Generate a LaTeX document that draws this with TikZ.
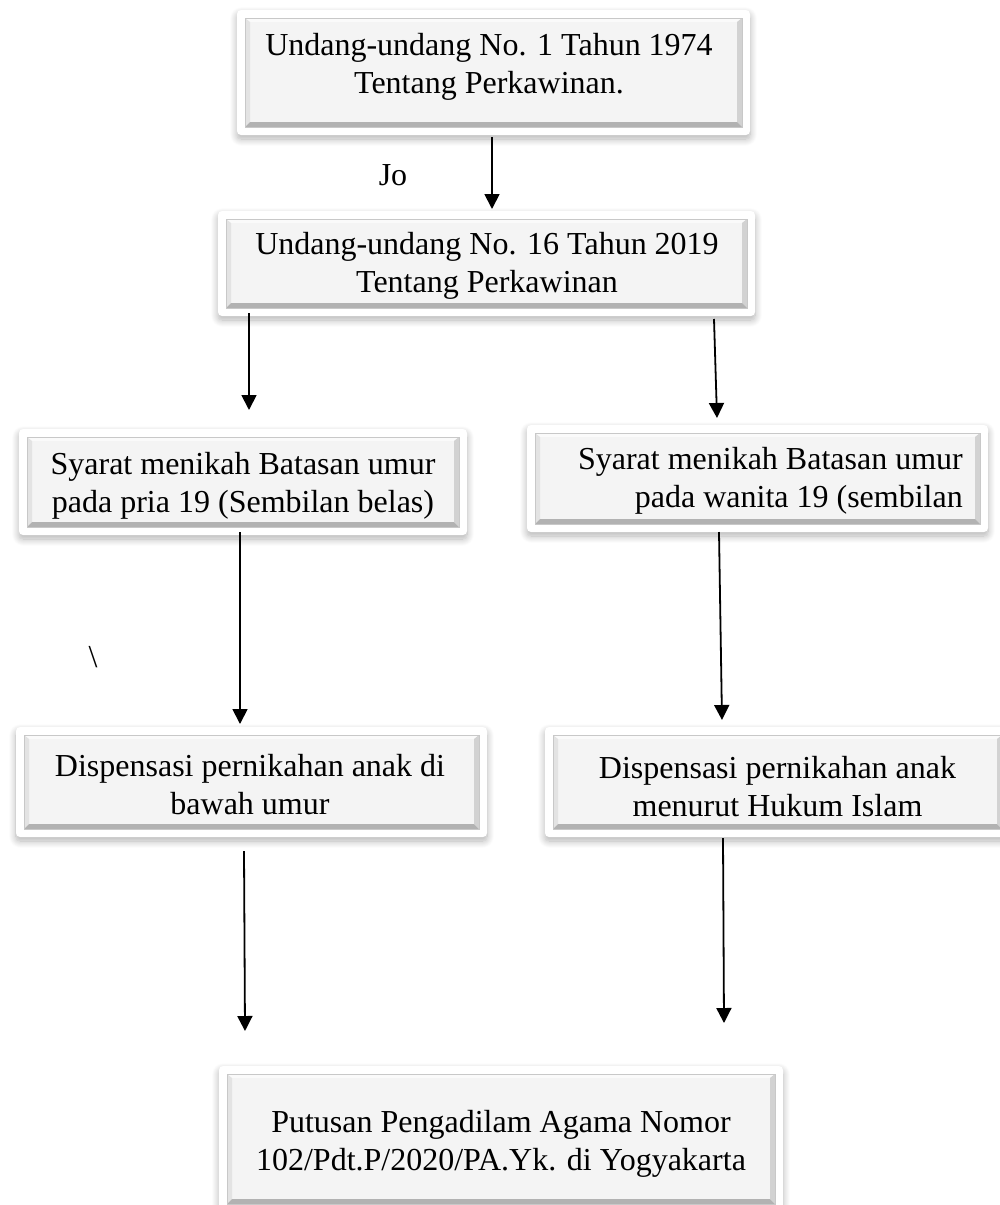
\documentclass[tikz,border=0pt]{standalone}
\usepackage{fontspec}
\setmainfont{Liberation Serif}
\usetikzlibrary{arrows.meta,shadows.blur}
\definecolor{facecol}{HTML}{F4F4F4}
\definecolor{topbev}{HTML}{FAFAFA}
\definecolor{leftbev}{HTML}{E3E3E3}
\definecolor{rightbev}{HTML}{D2D2D2}
\definecolor{botbev}{HTML}{B2B2B2}
\definecolor{edgecol}{HTML}{C8C8C8}
\begin{document}
\begin{tikzpicture}[x=1pt,y=-1pt,
  box/.style={rectangle, rounded corners=4pt, fill=white, draw=none, inner sep=0pt,
    blur shadow={shadow xshift=0pt, shadow yshift=-4pt, shadow blur radius=7pt, shadow opacity=30, shadow blur steps=10},
    path picture={
      \begin{scope}[sharp corners]
      \coordinate (pSW) at ([xshift=8pt,yshift=8pt]path picture bounding box.south west);
      \coordinate (pNE) at ([xshift=-8pt,yshift=-8pt]path picture bounding box.north east);
      \coordinate (pNW) at (pSW |- pNE);
      \coordinate (pSE) at (pNE |- pSW);
      \coordinate (iSW) at ([xshift=5pt,yshift=5pt]pSW);
      \coordinate (iNE) at ([xshift=-5pt,yshift=-4pt]pNE);
      \coordinate (iNW) at (iSW |- iNE);
      \coordinate (iSE) at (iNE |- iSW);
      \fill[facecol] (iSW) rectangle (iNE);
      \fill[topbev] (pNW) -- (pNE) -- (iNE) -- (iNW) -- cycle;
      \fill[leftbev] (pSW) -- (pNW) -- (iNW) -- (iSW) -- cycle;
      \fill[rightbev] (pSE) -- (pNE) -- (iNE) -- (iSE) -- cycle;
      \fill[botbev] (pSW) -- (pSE) -- (iSE) -- (iSW) -- cycle;
      \draw[edgecol, line width=0.5pt] (pSW) rectangle (pNE);
      \end{scope}
    }},
  txt/.style={font=\fontsize{32}{38}\selectfont, align=center, inner sep=0pt},
  arr/.style={line width=1.8pt, -{Triangle[width=15pt,length=15pt]}}]
\useasboundingbox (0,0) rectangle (1000,1205);
\clip (0,0) rectangle (1000,1205);

% boxes
\node[box, minimum width=513pt, minimum height=125pt] (b1) at (493.5,72.5) {};
\node[box, minimum width=537pt, minimum height=105pt] (b2) at (486.5,263.5) {};
\node[box, minimum width=448pt, minimum height=106pt] (b3) at (243,482) {};
\node[box, minimum width=461pt, minimum height=107pt] (b4) at (757.5,478.5) {};
\node[box, minimum width=471pt, minimum height=110pt] (b5) at (251.5,782) {};
\node[box, minimum width=465pt, minimum height=110pt] (b6) at (777.5,782) {};
\node[box, minimum width=564pt, minimum height=146pt] (b7) at (501,1139) {};

% texts
\node[txt] (t1) at (489,67) {Undang-undang No. 1 Tahun 1974\\Tentang Perkawinan.};
\node[txt] (t2) at (487,266) {Undang-undang No. 16 Tahun 2019\\Tentang Perkawinan};
\node[txt] (t3) at (243,486) {Syarat menikah Batasan umur\\pada pria 19 (Sembilan belas)};
\node[txt, align=right, anchor=east] (t4) at (963,481) {Syarat menikah Batasan umur\\pada wanita 19 (sembilan};
\node[txt] (t5) at (250,785) {Dispensasi pernikahan anak di\\bawah umur};
\node[txt] (t6) at (777.5,787) {Dispensasi pernikahan anak\\menurut Hukum Islam};
\node[txt] (t7) at (501,1144) {Putusan Pengadilam Agama Nomor\\102/Pdt.P/2020/PA.Yk. di Yogyakarta};
\node[txt] (jo) at (393,175) {Jo};
\node[txt] (bs) at (93,657) {\textbackslash};

% arrow ends
\coordinate (a1s) at (492,137);  \coordinate (a1e) at (492,209);
\coordinate (a2s) at (249,313);  \coordinate (a2e) at (249,410);
\coordinate (a3s) at (714,319);  \coordinate (a3e) at (717,418);
\coordinate (a4s) at (240,532);  \coordinate (a4e) at (240,724);
\coordinate (a5s) at (719,532);  \coordinate (a5e) at (722,720);
\coordinate (a6s) at (244,851);  \coordinate (a6e) at (245,1031);
\coordinate (a7s) at (723,838);  \coordinate (a7e) at (724,1023);

\draw[arr] (a1s) -- (a1e);
\draw[arr] (a2s) -- (a2e);
\draw[arr] (a3s) -- (a3e);
\draw[arr] (a4s) -- (a4e);
\draw[arr] (a5s) -- (a5e);
\draw[arr] (a6s) -- (a6e);
\draw[arr] (a7s) -- (a7e);
\end{tikzpicture}
\end{document}
